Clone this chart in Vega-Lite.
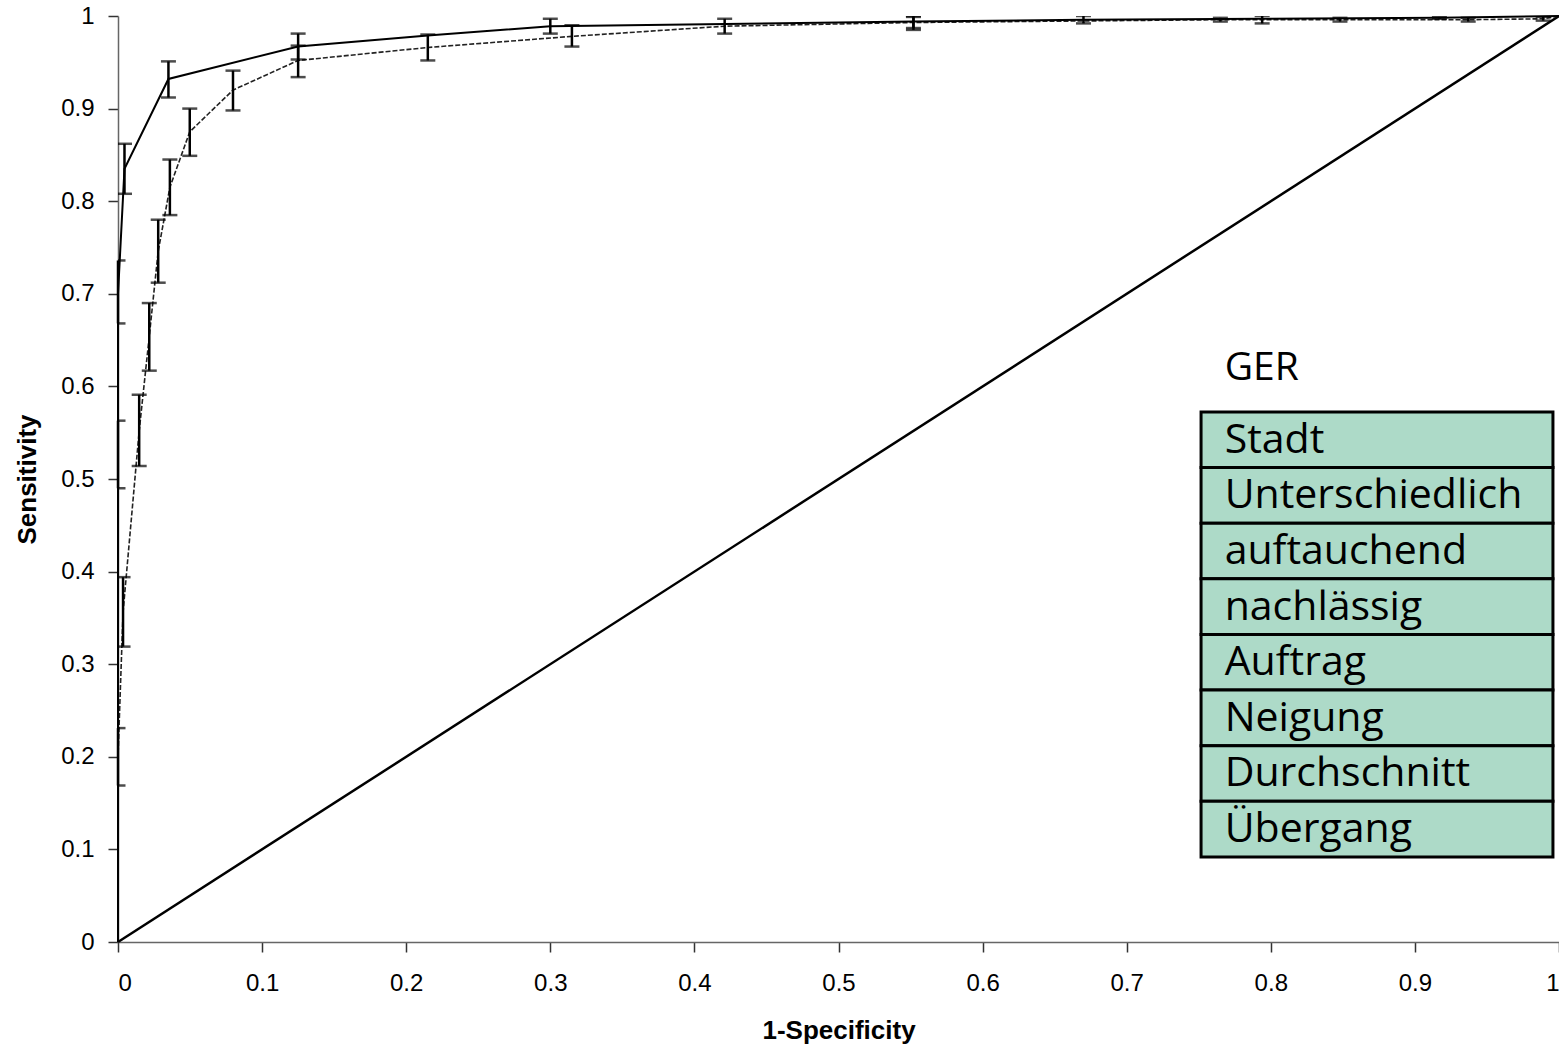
{
  "$schema": "https://vega.github.io/schema/vega-lite/v6.json",
  "autosize": "none",
  "width": 1441,
  "height": 926,
  "padding": {"left": 118, "top": 16, "right": 0, "bottom": 104},
  "background": "white",
  "config": {
    "view": {"stroke": null},
    "font": "Liberation Sans",
    "axis": {
      "grid": false,
      "domainColor": "#666666",
      "domainWidth": 1.5,
      "tickColor": "#333333",
      "tickWidth": 1.5,
      "tickSize": 10,
      "labelFont": "Liberation Sans",
      "labelFontSize": 24,
      "labelColor": "#000000",
      "titleFont": "Liberation Sans",
      "titleFontSize": 26,
      "titleFontWeight": "bold",
      "titleColor": "#000000"
    }
  },
  "datasets": {
    "roc": [
      {"curve": "A", "fpr": 0, "sens": 0},
      {"curve": "A", "fpr": 0, "sens": 0.525, "lo": 0.49, "hi": 0.563},
      {"curve": "A", "fpr": 0, "sens": 0.70, "lo": 0.668, "hi": 0.736},
      {"curve": "A", "fpr": 0.0045, "sens": 0.835, "lo": 0.808, "hi": 0.862},
      {"curve": "A", "fpr": 0.035, "sens": 0.932, "lo": 0.912, "hi": 0.951},
      {"curve": "A", "fpr": 0.125, "sens": 0.967, "lo": 0.953, "hi": 0.981},
      {"curve": "A", "fpr": 0.215, "sens": 0.979},
      {"curve": "A", "fpr": 0.300, "sens": 0.989, "lo": 0.981, "hi": 0.997},
      {"curve": "A", "fpr": 0.552, "sens": 0.994, "lo": 0.987, "hi": 1.0},
      {"curve": "A", "fpr": 0.670, "sens": 0.996, "lo": 0.992, "hi": 1.0},
      {"curve": "A", "fpr": 0.794, "sens": 0.997, "lo": 0.992, "hi": 1.0},
      {"curve": "A", "fpr": 0.917, "sens": 0.998, "lo": 0.997, "hi": 0.999},
      {"curve": "A", "fpr": 1, "sens": 1},
      {"curve": "B", "fpr": 0, "sens": 0},
      {"curve": "B", "fpr": 0, "sens": 0.2, "lo": 0.169, "hi": 0.231},
      {"curve": "B", "fpr": 0.0035, "sens": 0.356, "lo": 0.319, "hi": 0.394},
      {"curve": "B", "fpr": 0.0147, "sens": 0.552, "lo": 0.514, "hi": 0.591},
      {"curve": "B", "fpr": 0.0217, "sens": 0.654, "lo": 0.617, "hi": 0.690},
      {"curve": "B", "fpr": 0.0279, "sens": 0.746, "lo": 0.712, "hi": 0.780},
      {"curve": "B", "fpr": 0.036, "sens": 0.815, "lo": 0.785, "hi": 0.845},
      {"curve": "B", "fpr": 0.0498, "sens": 0.875, "lo": 0.849, "hi": 0.900},
      {"curve": "B", "fpr": 0.0798, "sens": 0.92, "lo": 0.898, "hi": 0.941},
      {"curve": "B", "fpr": 0.125, "sens": 0.952, "lo": 0.934, "hi": 0.968},
      {"curve": "B", "fpr": 0.215, "sens": 0.966, "lo": 0.952, "hi": 0.980},
      {"curve": "B", "fpr": 0.315, "sens": 0.978, "lo": 0.967, "hi": 0.990},
      {"curve": "B", "fpr": 0.421, "sens": 0.989, "lo": 0.981, "hi": 0.997},
      {"curve": "B", "fpr": 0.552, "sens": 0.993, "lo": 0.985, "hi": 0.999},
      {"curve": "B", "fpr": 0.765, "sens": 0.996, "lo": 0.994, "hi": 0.998},
      {"curve": "B", "fpr": 0.848, "sens": 0.996, "lo": 0.994, "hi": 0.998},
      {"curve": "B", "fpr": 0.937, "sens": 0.996, "lo": 0.994, "hi": 0.998},
      {"curve": "B", "fpr": 0.989, "sens": 0.997, "lo": 0.995, "hi": 0.999},
      {"curve": "B", "fpr": 1, "sens": 1}
    ],
    "diag": [
      {"fpr": 0, "sens": 0},
      {"fpr": 1, "sens": 1}
    ],
    "legend": [
      {"row": 0, "label": "Stadt"},
      {"row": 1, "label": "Unterschiedlich"},
      {"row": 2, "label": "auftauchend"},
      {"row": 3, "label": "nachlässig"},
      {"row": 4, "label": "Auftrag"},
      {"row": 5, "label": "Neigung"},
      {"row": 6, "label": "Durchschnitt"},
      {"row": 7, "label": "Übergang"}
    ],
    "header": [
      {"row": -1, "label": "GER"}
    ]
  },
  "layer": [
    {
      "encoding": {
        "x": {
          "field": "fpr",
          "type": "quantitative",
          "title": "1-Specificity",
          "scale": {"domain": [0, 1], "nice": false, "zero": false},
          "axis": {"values": [0, 0.1, 0.2, 0.3, 0.4, 0.5, 0.6, 0.7, 0.8, 0.9, 1], "format": "~g", "labelPadding": 19, "titlePadding": 22}
        },
        "y": {
          "field": "sens",
          "type": "quantitative",
          "title": "Sensitivity",
          "scale": {"domain": [0, 1], "nice": false, "zero": false},
          "axis": {"values": [0, 0.1, 0.2, 0.3, 0.4, 0.5, 0.6, 0.7, 0.8, 0.9, 1], "format": "~g", "labelPadding": 14, "titlePadding": 20}
        }
      },
      "layer": [
        {
          "data": {"name": "diag"},
          "mark": {"type": "line", "color": "#000000", "strokeWidth": 2.5}
        },
        {
          "data": {"name": "roc"},
          "transform": [{"filter": "datum.curve === 'B'"}],
          "mark": {"type": "line", "color": "#222222", "strokeWidth": 1.6, "strokeDash": [5, 2]},
          "encoding": {"order": {"field": "sens", "type": "quantitative"}}
        },
        {
          "data": {"name": "roc"},
          "transform": [{"filter": "datum.curve === 'A'"}],
          "mark": {"type": "line", "color": "#000000", "strokeWidth": 2},
          "encoding": {"order": {"field": "sens", "type": "quantitative"}}
        },
        {
          "data": {"name": "roc"},
          "transform": [{"filter": "isValid(datum.lo)"}],
          "mark": {"type": "rule", "color": "#000000", "strokeWidth": 2.5},
          "encoding": {
            "y": {"field": "lo", "type": "quantitative"},
            "y2": {"field": "hi"}
          }
        },
        {
          "data": {"name": "roc"},
          "transform": [
            {"filter": "isValid(datum.lo)"},
            {"fold": ["lo", "hi"], "as": ["end", "val"]}
          ],
          "mark": {"type": "tick", "orient": "horizontal", "color": "#000000", "size": 15, "thickness": 2.5, "clip": true},
          "encoding": {
            "y": {"field": "val", "type": "quantitative"}
          }
        }
      ]
    },
    {
      "encoding": {
        "y": {
          "field": "row",
          "type": "quantitative",
          "axis": null,
          "scale": {"domain": [-7.62, 9.03], "reverse": true, "nice": false, "zero": false}
        }
      },
      "layer": [
        {
          "data": {"name": "legend"},
          "mark": {"type": "rect", "fill": "#addac8", "stroke": "#000000", "strokeWidth": 3, "height": 55.6},
          "encoding": {
            "x": {"datum": 0.7516},
            "x2": {"datum": 0.9958}
          }
        },
        {
          "data": {"name": "legend"},
          "mark": {"type": "text", "font": "Open Sans", "fontSize": 41, "align": "left", "baseline": "middle", "dy": 1, "color": "#000000"},
          "encoding": {
            "x": {"datum": 0.768},
            "text": {"field": "label"}
          }
        },
        {
          "data": {"name": "header"},
          "mark": {"type": "text", "font": "Open Sans", "fontSize": 39, "align": "left", "baseline": "middle", "dy": -16, "color": "#000000"},
          "encoding": {
            "x": {"datum": 0.768},
            "text": {"field": "label"}
          }
        }
      ]
    }
  ],
  "resolve": {"scale": {"y": "independent"}}
}
